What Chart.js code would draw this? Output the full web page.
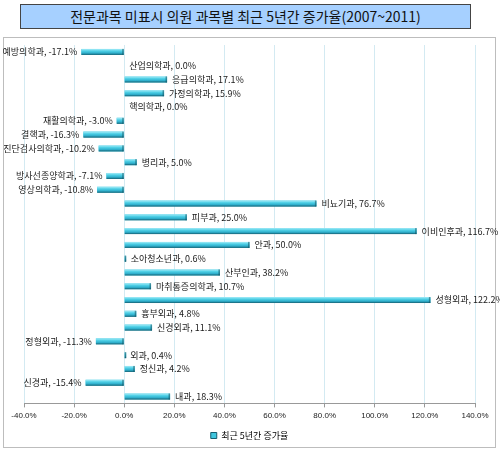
<!DOCTYPE html>
<html>
<head>
<meta charset="utf-8">
<script src="https://cdn.jsdelivr.net/npm/chart.js@4"></script>
<style>
  body { margin: 0; background: #fff; }
  #wrap { position: relative; width: 500px; height: 450px; }
  #title {
    position: absolute; left: 20px; top: 4px; width: 449px; height: 23px;
    background: #a6d0ff; border: 1px solid #444;
    font: 14px "Noto Sans CJK KR", sans-serif; color: #111;
    text-align: center; line-height: 23px;
  }
  #frame {
    position: absolute; left: 3px; top: 37px; width: 491px; height: 409px;
    border: 1px solid #bdbdbd;
  }
  canvas { position: absolute; left: 0; top: 0; }
</style>
</head>
<body>
<div id="wrap">
  <div id="title">전문과목 미표시 의원 과목별 최근 5년간 증가율(2007~2011)</div>
  <div id="frame"></div>
  <canvas id="chart" width="500" height="450"></canvas>
</div>
<script>
const categories = ['예방의학과', '산업의학과', '응급의학과', '가정의학과', '핵의학과', '재활의학과',
  '결핵과', '진단검사의학과', '병리과', '방사선종양학과', '영상의학과', '비뇨기과', '피부과',
  '이비인후과', '안과', '소아청소년과', '산부인과', '마취통증의학과', '성형외과', '흉부외과',
  '신경외과', '정형외과', '외과', '정신과', '신경과', '내과'];
const growth = [-17.1, 0.0, 17.1, 15.9, 0.0, -3.0, -16.3, -10.2, 5.0, -7.1, -10.8, 76.7, 25.0,
  116.7, 50.0, 0.6, 38.2, 10.7, 122.2, 4.8, 11.1, -11.3, 0.4, 4.2, -15.4, 18.3];
const seriesName = '최근 5년간 증가율';
const xMin = -40, xMax = 140, xStep = 20;

// shaded cylinder look + "name, value%" labels next to each bar
const barDecor = {
  id: 'barDecor',
  afterDatasetsDraw(chart) {
    const ctx = chart.ctx;
    const meta = chart.getDatasetMeta(0);
    meta.data.forEach((bar, i) => {
      const p = bar.getProps(['x', 'y', 'base', 'height'], true);
      const left = Math.min(p.x, p.base), w = Math.abs(p.x - p.base);
      const top = p.y - p.height / 2;
      if (w > 0) {
        const g = ctx.createLinearGradient(0, top, 0, top + p.height);
        g.addColorStop(0, '#a8ecf8');
        g.addColorStop(0.35, '#4fd0e6');
        g.addColorStop(0.7, '#2eaecb');
        g.addColorStop(1, '#155e70');
        ctx.fillStyle = g;
        ctx.fillRect(left, top, Math.max(w, 1.5), p.height);
        ctx.fillStyle = 'rgba(20,80,95,0.55)';
        ctx.fillRect(left + Math.max(w, 1.5) - 1.5, top, 1.5, p.height);
      }
      const v = growth[i];
      const txt = categories[i] + ', ' + v.toFixed(1) + '%';
      ctx.save();
      ctx.font = '9px "Noto Sans CJK KR", sans-serif';
      ctx.fillStyle = '#1a1a1a';
      ctx.textBaseline = 'middle';
      if (v < 0) {
        ctx.textAlign = 'right';
        ctx.fillText(txt, p.x - 4, p.y);
      } else {
        ctx.textAlign = 'left';
        ctx.fillText(txt, p.x + 5, p.y);
      }
      ctx.restore();
    });
  }
};

new Chart(document.getElementById('chart'), {
  type: 'bar',
  data: {
    labels: categories,
    datasets: [{
      label: seriesName,
      data: growth,
      backgroundColor: '#3fc6de',
      borderWidth: 0,
      inflateAmount: 0,
      barThickness: 6
    }]
  },
  options: {
    indexAxis: 'y',
    responsive: false,
    animation: false,
    layout: { padding: { left: 24, right: 25, top: 45, bottom: 0 } },
    scales: {
      y: { display: false },
      x: {
        min: xMin, max: xMax,
        ticks: {
          stepSize: xStep,
          padding: 4,
          color: '#222',
          font: { family: 'Liberation Sans', size: 8 },
          callback: v => v.toFixed(1) + '%'
        },
        grid: { color: '#d3eaf2', tickLength: 4, tickColor: '#999' },
        border: { color: '#999' }
      }
    },
    plugins: {
      tooltip: { enabled: false },
      legend: {
        position: 'bottom',
        labels: {
          boxWidth: 6, boxHeight: 6, padding: 6,
          color: '#222',
          font: { family: 'Noto Sans CJK KR', size: 9 },
          generateLabels: () => [{ text: seriesName, fillStyle: '#3fc6de', strokeStyle: '#155e70', lineWidth: 1 }]
        }
      }
    }
  },
  plugins: [barDecor]
});
</script>
</body>
</html>
